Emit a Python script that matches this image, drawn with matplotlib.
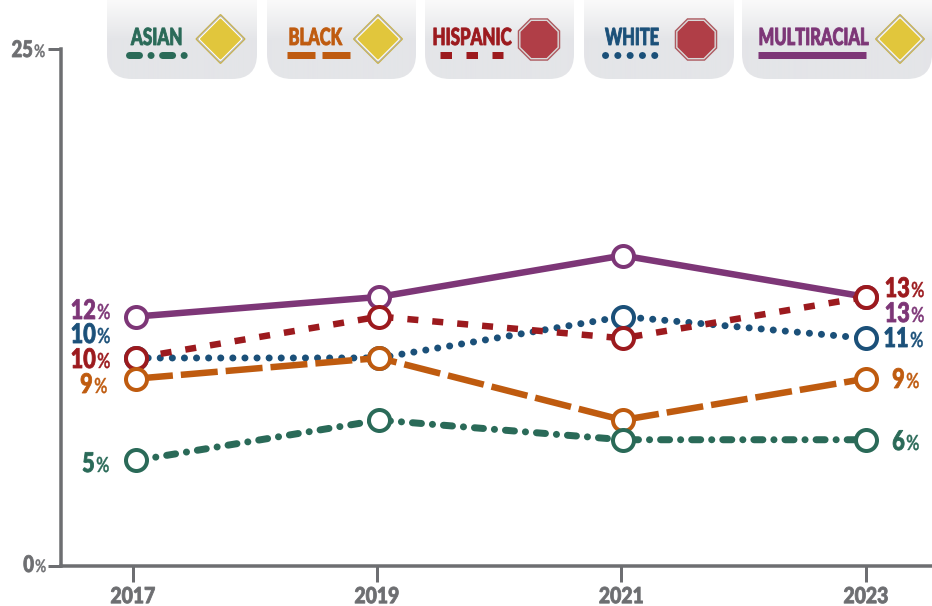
import matplotlib
matplotlib.use("Agg")
import matplotlib.pyplot as plt
import numpy as np
from matplotlib.patches import FancyBboxPatch, Polygon
from matplotlib.lines import Line2D
from matplotlib.patheffects import AbstractPathEffect
from matplotlib.transforms import Affine2D

plt.rcParams['font.family'] = ['Lato', 'DejaVu Sans']
plt.rcParams['lines.scale_dashes'] = False

years = [2017, 2019, 2021, 2023]
asian = [5.1, 7.05, 6.1, 6.1]
black = [9.05, 10.05, 7.05, 9.05]
hispanic = [10.05, 12.05, 11.0, 13.0]
white = [10.05, 10.05, 12.05, 11.0]
multiracial = [12.05, 13.0, 15.0, 13.0]

GRAY = '#6d6e71'
C_ASIAN = '#2a6a58'
C_BLACK = '#bf5b0f'
C_HISP = '#9c1a1e'
C_WHITE = '#1b5079'
C_MULTI = '#7d3677'

W, H = 932, 606
px = 72 / 100  # points per pixel at dpi 100


class Narrow(AbstractPathEffect):
    # no condensed font installed, so squeeze the glyphs sideways and fatten a little
    def __init__(self, k, anchor='left', stroke=0.6):
        super().__init__()
        self.k = k
        self.anchor = anchor
        self.stroke = stroke

    def draw_path(self, renderer, gc, tpath, affine, rgbFace=None):
        ext = tpath.get_extents()
        a = {'left': ext.x0, 'center': (ext.x0 + ext.x1) / 2, 'right': ext.x1}[self.anchor]
        squeeze = Affine2D().translate(-a, 0).scale(self.k, 1).translate(a, 0)
        gc0 = renderer.new_gc()
        gc0.copy_properties(gc)
        gc0.set_linewidth(self.stroke)
        renderer.draw_path(gc0, tpath, squeeze + affine, rgbFace)
        gc0.restore()


fig = plt.figure(figsize=(W / 100, H / 100), dpi=100)

# main axes, x from 61 to the right edge, y from 566 up to 48.5
ax = fig.add_axes([61 / W, (H - 566) / H, (W - 61) / W, (566 - 48.5) / H])
ax.set_xlim(2017 - 75 / 121.67, 2023 + 66 / 121.67)
ax.set_ylim(0, 25)
ax.patch.set_visible(False)
for s in ['top', 'right']:
    ax.spines[s].set_visible(False)
for s in ['left', 'bottom']:
    ax.spines[s].set_color(GRAY)
    ax.spines[s].set_linewidth(3.5 * px)
ax.set_xticks([2016.975, 2018.98, 2020.99, 2023])
ax.set_xticklabels(years, fontsize=16, fontweight='black', color=GRAY)
for t in ax.get_xticklabels():
    t.set_path_effects([Narrow(0.87, 'center')])
ax.tick_params(axis='x', length=16 * px, width=3 * px, color=GRAY, pad=3)
ax.set_yticks([0, 25])
ax.set_yticklabels([])
ax.tick_params(axis='y', length=13 * px, width=3 * px, color=GRAY)


def series(vals, color, dashes, cap, lw=6.5):
    ax.plot(years, vals, color=color, lw=lw * px, dashes=dashes, dash_capstyle=cap,
            solid_capstyle='butt', clip_on=False)
    ax.plot(years, vals, ls='none', marker='o', ms=21 * px, mfc='white', mec=color,
            mew=4 * px, clip_on=False)


D_ASIAN = (9 * px, 11 * px, 0.1 * px, 11 * px)
D_BLACK = (37 * px, 8 * px)
D_HISP = (11 * px, 14 * px)
D_WHITE = (0.1 * px, 12 * px)
D_SOLID = (1000, 0)

series(multiracial, C_MULTI, D_SOLID, 'butt')
series(white, C_WHITE, D_WHITE, 'round', 7)
series(hispanic, C_HISP, D_HISP, 'butt')
series(black, C_BLACK, D_BLACK, 'butt')
series(asian, C_ASIAN, D_ASIAN, 'round', 7)

# overlay in pixel units for cards and labels
ov = fig.add_axes([0, 0, 1, 1])
ov.set_xlim(0, W)
ov.set_ylim(H, 0)
ov.axis('off')
ov.patch.set_visible(False)


def pct(x, base, vals, idx, color, size=19.5, psize=15):
    num = round(vals[idx]) if vals is not None else idx
    ov.text(x, base, num, color=color, fontsize=size, fontweight='black', ha='right', va='baseline',
            path_effects=[Narrow(0.8, 'right')])
    ov.text(x + 1, base, '%', color=color, fontsize=psize, ha='left', va='baseline',
            fontweight='semibold', path_effects=[Narrow(0.78, 'left', 0.3)])


pct(33, 57, None, 25, GRAY, 16.5, 12.5)
pct(34, 572, None, 0, GRAY, 16.5, 12.5)

pct(96, 319, multiracial, 0, C_MULTI)
pct(96, 343, white, 0, C_WHITE)
pct(96, 368, hispanic, 0, C_HISP)
pct(93, 393, black, 0, C_BLACK)
pct(95, 472, asian, 0, C_ASIAN)
pct(910, 297, hispanic, 3, C_HISP)
pct(910, 322, multiracial, 3, C_MULTI)
pct(909, 347, white, 3, C_WHITE)
pct(905, 388, black, 3, C_BLACK)
pct(905, 450, asian, 3, C_ASIAN)

# legend cards
grad = np.clip(np.linspace(0, 1, 80) * 2.0, 0, 1).reshape(-1, 1)
rgb = np.ones((80, 1, 3))
for i, c in enumerate([228, 229, 232]):
    rgb[:, :, i] = (1 - grad) * (250 / 255) + grad * (c / 255)

cards = [(107, 257), (267, 416), (425, 574), (584, 734), (742, 932)]
for x0, x1 in cards:
    box = FancyBboxPatch((x0, -40), x1 - x0, 119, boxstyle='round,pad=0,rounding_size=25',
                         ec='none', fc='none')
    ov.add_patch(box)
    im = ov.imshow(rgb, extent=(x0, x1, 80, 0), aspect='auto', zorder=1, interpolation='bilinear')
    im.set_clip_path(box)
ov.set_xlim(0, W)
ov.set_ylim(H, 0)


def diamond(cx, cy):
    for r, fc in [(24, '#c9b24a'), (22.5, '#b9b9b9'), (21, '#ffffff'), (19.5, '#e1c63c')]:
        ov.add_patch(Polygon([(cx - r, cy), (cx, cy - r), (cx + r, cy), (cx, cy + r)], closed=True,
                             fc=fc, ec=fc, lw=2 * px, joinstyle='round', zorder=3))


def octagon(cx, cy):
    ang = np.deg2rad(np.arange(22.5, 360, 45))
    for r, fc in [(23, '#ad5a60'), (21.5, '#d9d9d9'), (20, '#b03e47')]:
        ov.add_patch(Polygon(np.c_[cx + r * np.cos(ang), cy + r * np.sin(ang)], closed=True,
                             fc=fc, ec='none', zorder=3))


def entry(label, color, tx, k, sx0, sx1, dashes, cap, lw=7):
    ov.text(tx, 45, label, color=color, fontsize=17, fontweight='black', ha='left', va='baseline', zorder=4,
            path_effects=[Narrow(k, 'left')])
    ov.add_line(Line2D([sx0, sx1], [55, 55], color=color, lw=lw * px, dashes=dashes,
                       dash_capstyle=cap, solid_capstyle='butt', zorder=4))


entry('ASIAN', C_ASIAN, 131, 0.72, 129.3, 184, (10 * px, 11.5 * px, 0.1 * px, 11.5 * px), 'round')
entry('BLACK', C_BLACK, 288, 0.7, 287, 350, (28 * px, 7 * px), 'butt')
entry('HISPANIC', C_HISP, 432, 0.715, 439.5, 503, (11.5 * px, 14.5 * px), 'butt')
entry('WHITE', C_WHITE, 605, 0.69, 605, 655, (0.1 * px, 12.2 * px), 'round')
entry('MULTIRACIAL', C_MULTI, 758, 0.7, 758, 866, D_SOLID, 'butt')

diamond(220.5, 39)
diamond(378, 39)
octagon(539, 39.5)
octagon(696, 39.5)
diamond(900, 39)

fig.savefig('out.png', dpi=100)
